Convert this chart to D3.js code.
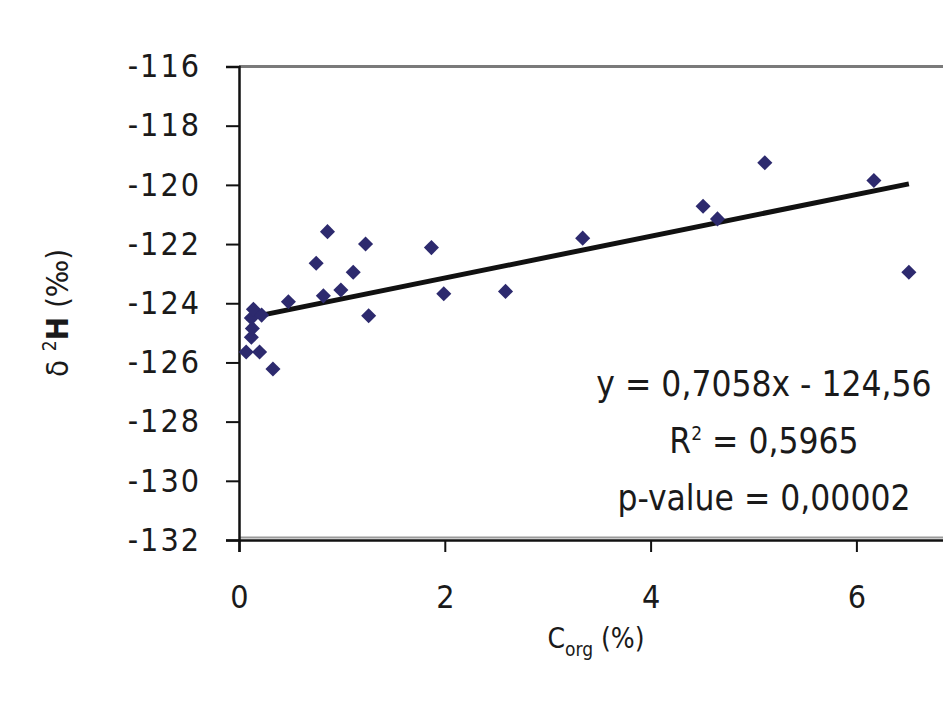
<!DOCTYPE html>
<html>
<head>
<meta charset="utf-8">
<script src="https://cdn.jsdelivr.net/npm/d3@7"></script>
<style>
  html, body { margin: 0; padding: 0; background: #fff; }
  svg { display: block; }
  text { font-family: "DejaVu Sans Condensed", "DejaVu Sans", Verdana, sans-serif; font-stretch: condensed; fill: #1a1a1a; }
</style>
</head>
<body>
<svg id="chart" width="943" height="710"></svg>
<script>
// ---- data ----
const cOrg = [0.07, 0.20, 0.33, 0.12, 0.13, 0.12, 0.14, 0.22, 0.48, 0.82, 0.99, 0.75, 0.86, 1.11, 1.23, 1.26, 1.87, 1.99, 2.59, 3.34, 4.51, 4.65, 5.11, 6.17, 6.51];
const d2H  = [-125.65, -125.65, -126.22, -125.15, -124.85, -124.5, -124.2, -124.4, -123.95, -123.75, -123.55, -122.65, -121.58, -122.95, -122.0, -124.42, -122.12, -123.68, -123.6, -121.8, -120.72, -121.15, -119.25, -119.85, -122.95];
const xTicks = [0, 2, 4, 6];
const yTicks = [-132, -130, -128, -126, -124, -122, -120, -118, -116];
const slope = 0.7058, intercept = -124.56;
const statLines = ["y = 0,7058x - 124,56", "R² = 0,5965", "p-value = 0,00002"];

const points = cOrg.map((x, i) => ({ x, y: d2H[i] }));

const svg = d3.select("#chart");
const x = d3.scaleLinear().domain([0, 8]).range([239, 239 + 8 * 102.9]);
const y = d3.scaleLinear().domain([-132, -116]).range([540, 66.5]);

// plot frame top (grey) and grey line along bottom
svg.append("line")
  .attr("x1", x(0)).attr("x2", 943)
  .attr("y1", y(-116)).attr("y2", y(-116))
  .attr("stroke", "#7a7a7a").attr("stroke-width", 3);
svg.append("line")
  .attr("x1", x(0)).attr("x2", 943)
  .attr("y1", y(-132) - 2.5).attr("y2", y(-132) - 2.5)
  .attr("stroke", "#9a9a9a").attr("stroke-width", 2);

// y axis
const yAxis = svg.append("g")
  .attr("transform", `translate(${x(0)},0)`)
  .call(d3.axisLeft(y).tickValues(yTicks).tickSize(13).tickPadding(25).tickFormat(d => String(d)));
yAxis.select(".domain").attr("stroke", "#111").attr("stroke-width", 2.5);
yAxis.selectAll(".tick line").attr("stroke", "#111").attr("stroke-width", 2);
yAxis.selectAll(".tick text")
  .attr("font-size", 32).attr("letter-spacing", "2px")
  .attr("font-family", null).attr("fill", "#1a1a1a");

// x axis
const xAxis = svg.append("g")
  .attr("transform", `translate(0,${y(-132)})`)
  .call(d3.axisBottom(x).tickValues(xTicks).tickSize(12).tickPadding(33).tickFormat(d => String(d)));
xAxis.select(".domain").attr("stroke", "#111").attr("stroke-width", 2.5);
xAxis.selectAll(".tick line").attr("stroke", "#111").attr("stroke-width", 2);
xAxis.selectAll(".tick text")
  .attr("font-size", 32)
  .attr("font-family", null).attr("fill", "#1a1a1a");

// trendline
const xr = d3.extent(cOrg);
svg.append("line")
  .attr("x1", x(xr[0])).attr("y1", y(slope * xr[0] + intercept))
  .attr("x2", x(xr[1])).attr("y2", y(slope * xr[1] + intercept))
  .attr("stroke", "#111").attr("stroke-width", 5);

// points (diamonds)
const diamond = d3.symbol().type(d3.symbolDiamond2).size(145);
svg.append("g").selectAll("path")
  .data(points).join("path")
  .attr("d", diamond)
  .attr("transform", d => `translate(${x(d.x)},${y(d.y)})`)
  .attr("fill", "#2d2a6e");

// statistics text
const stats = svg.append("text")
  .attr("text-anchor", "middle").attr("font-size", 35);
stats.append("tspan").attr("x", 764).attr("y", 396).text(statLines[0]);
const r2 = stats.append("tspan").attr("x", 764).attr("y", 453);
r2.append("tspan").text("R");
r2.append("tspan").attr("font-size", 19).attr("dy", -13).text("2");
r2.append("tspan").attr("dy", 13).text(" = 0,5965");
stats.append("tspan").attr("x", 764).attr("y", 510).text(statLines[2]);

// x axis title
const xt = svg.append("text")
  .attr("x", 596).attr("y", 648).attr("text-anchor", "middle").attr("font-size", 28);
xt.append("tspan").text("C");
xt.append("tspan").attr("font-size", 19).attr("dy", 8).text("org");
xt.append("tspan").attr("dy", -8).text(" (%)");

// y axis title
const yt = svg.append("text")
  .attr("transform", "translate(68,313) rotate(-90)")
  .attr("text-anchor", "middle").attr("font-size", 31);
yt.append("tspan").text("δ ");
yt.append("tspan").attr("font-size", 19).attr("dy", -12).text("2");
yt.append("tspan").attr("dy", 12).attr("font-weight", "bold").text("H");
yt.append("tspan").text(" (‰)");
</script>
</body>
</html>
